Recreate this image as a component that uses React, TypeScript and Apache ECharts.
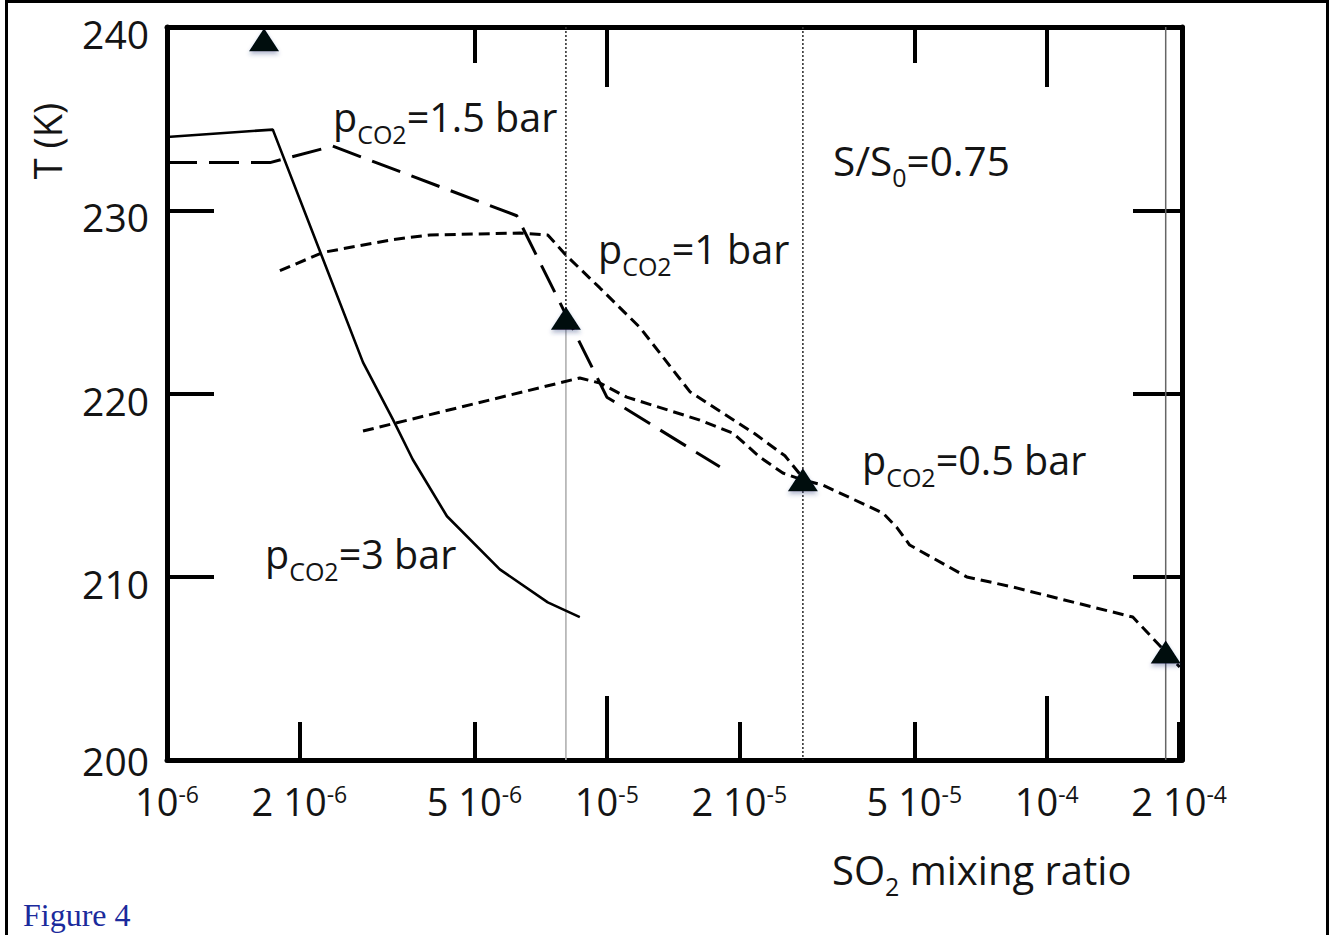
import React, { useEffect, useRef } from 'react';
import * as echarts from 'echarts';

const FONT = '"Open Sans", "DejaVu Sans", sans-serif';
const INK = '#141414';

// Axis ranges
const X_MIN = 1e-6;
const X_MAX = 2.03e-4;
const Y_MIN = 200;
const Y_MAX = 240;

// p_CO2 = 3 bar (solid)
const bar3X = [1.0e-6, 1.74e-6, 2.79e-6, 3.26e-6, 3.62e-6, 4.33e-6, 5.71e-6, 7.34e-6, 8.68e-6];
const bar3T = [234.0, 234.4, 221.7, 218.6, 216.4, 213.3, 210.4, 208.6, 207.8];

// p_CO2 = 1.5 bar (long dash)
const bar15X = [1.0e-6, 1.715e-6, 2.38e-6, 6.24e-6, 1.0e-5, 1.806e-5];
const bar15T = [232.6, 232.6, 233.5, 229.7, 219.8, 216.0];

// p_CO2 = 1 bar (short dash)
const bar1X = [1.806e-6, 2.262e-6, 3.264e-6, 3.961e-6, 6.34e-6, 7.34e-6, 8.11e-6, 9.64e-6, 1.189e-5, 1.544e-5, 2.17e-5, 2.54e-5, 2.79e-5];
const bar1T = [226.7, 227.7, 228.4, 228.65, 228.76, 228.65, 227.5, 225.76, 223.6, 220.1, 217.8, 216.6, 215.4];

// p_CO2 = 0.5 bar (short dash)
const bar05X = [2.79e-6, 8.68e-6, 9.64e-6, 1.11e-5, 1.627e-5, 1.934e-5, 2.227e-5, 2.512e-5, 2.79e-5, 3.097e-5, 4.24e-5, 4.56e-5, 4.88e-5, 6.58e-5, 8.37e-5, 1.569e-4, 1.874e-4, 2.006e-4];
const bar05T = [217.95, 220.85, 220.57, 219.8, 218.55, 217.84, 216.53, 215.66, 215.28, 215.0, 213.48, 212.7, 211.73, 209.99, 209.44, 207.8, 205.84, 205.07];

// triangle markers
const markX = [1.662e-6, 8.07e-6, 2.79e-5, 1.864e-4];
const markT = [239.3, 224.1, 215.3, 205.9];

// x tick labels
const tickValues = [1e-6, 2e-6, 5e-6, 1e-5, 2e-5, 5e-5, 1e-4, 2e-4];
const tickMantissas = ['', '2 ', '5 ', '', '2 ', '5 ', '', '2 '];
const tickExponents = ['-6', '-6', '-6', '-5', '-5', '-5', '-4', '-4'];
const majorTicks = [1e-5, 1e-4];
const bottomMinorTicks = [2e-6, 5e-6, 2e-5, 5e-5, 2e-4];
const topMinorTicks = [5e-6, 5e-5];

const pts = (xs: number[], ys: number[]) => xs.map((x, i) => [x, ys[i]]);

const subLabel = (x: number, y: number, a: string, sub: string, b: string, size = 39.5) => ({
  type: 'text',
  x,
  y,
  silent: true,
  style: {
    text: `{m|${a}}{s|${sub}}{m|${b}}`,
    align: 'left',
    verticalAlign: 'middle',
    rich: {
      m: { fontSize: size, fontFamily: FONT, fill: INK, verticalAlign: 'middle' },
      s: { fontSize: 25, fontFamily: FONT, fill: INK, verticalAlign: 'middle', padding: [34, 0, 0, 0] },
    },
  },
});

export default function App() {
  const ref = useRef<HTMLDivElement>(null);

  useEffect(() => {
    if (!ref.current) return;
    const chart = echarts.init(ref.current, null, { renderer: 'svg' });

    const lineAxis = { show: true, onZero: false, lineStyle: { color: '#000', width: 5 } };
    const tickStyle = { color: '#000', width: 4 };
    const baseX: any = {
      type: 'log',
      logBase: 10,
      min: X_MIN,
      max: X_MAX,
      splitLine: { show: false },
      axisLabel: { show: false },
      axisTick: { show: false },
      axisLine: { show: false, onZero: false },
    };

    const xLabelFormatter = (v: number) => {
      const i = tickValues.findIndex((t) => Math.abs(Math.log10(v) - Math.log10(t)) < 0.01);
      if (i < 0) return '';
      return `{m|${tickMantissas[i]}10}{s|${tickExponents[i]}}`;
    };

    const option: any = {
      animation: false,
      backgroundColor: '#fff',
      grid: { left: 167, right: 148, top: 27, bottom: 175 },
      xAxis: [
        {
          ...baseX,
          position: 'bottom',
          axisLine: lineAxis,
          axisTick: { show: true, inside: true, length: 64, lineStyle: tickStyle, customValues: majorTicks },
          axisLabel: {
            show: true,
            customValues: tickValues,
            formatter: xLabelFormatter,
            margin: 22,
            hideOverlap: false,
            rich: {
              m: { fontSize: 38, fontFamily: FONT, color: INK },
              s: { fontSize: 23, fontFamily: FONT, color: INK, verticalAlign: 'top' },
            },
          },
        },
        {
          ...baseX,
          position: 'bottom',
          axisTick: { show: true, inside: true, length: 38, lineStyle: tickStyle, customValues: bottomMinorTicks },
        },
        {
          ...baseX,
          position: 'top',
          axisLine: lineAxis,
          axisTick: { show: true, inside: true, length: 60, lineStyle: tickStyle, customValues: majorTicks },
        },
        {
          ...baseX,
          position: 'top',
          axisTick: { show: true, inside: true, length: 36, lineStyle: tickStyle, customValues: topMinorTicks },
        },
      ],
      yAxis: [
        {
          type: 'value',
          min: Y_MIN,
          max: Y_MAX,
          interval: 10,
          position: 'left',
          axisLine: lineAxis,
          axisTick: { show: true, inside: true, length: 47, lineStyle: tickStyle },
          axisLabel: {
            margin: 18,
            formatter: (v: number) => (v === Y_MIN ? `{b|${v}}` : `{v|${v}}`),
            rich: {
              v: { fontSize: 39, fontFamily: FONT, color: INK, padding: [13, 0, 0, 0] },
              b: { fontSize: 39, fontFamily: FONT, color: INK },
            },
          },
          splitLine: { show: false },
        },
        {
          type: 'value',
          min: Y_MIN,
          max: Y_MAX,
          interval: 10,
          position: 'right',
          axisLine: lineAxis,
          axisTick: { show: true, inside: true, length: 49, lineStyle: tickStyle },
          axisLabel: { show: false },
          splitLine: { show: false },
        },
      ],
      series: [
        {
          type: 'line',
          name: 'ref1-upper',
          data: [[markX[1], Y_MAX], [markX[1], markT[1]]],
          showSymbol: false,
          silent: true,
          lineStyle: { color: '#333', width: 1.6, type: [2, 2] },
        },
        {
          type: 'line',
          name: 'ref1-lower',
          data: [[markX[1], markT[1]], [markX[1], Y_MIN]],
          showSymbol: false,
          silent: true,
          lineStyle: { color: '#b0b0b0', width: 1.6 },
        },
        {
          type: 'line',
          name: 'ref2',
          data: [[markX[2], Y_MAX], [markX[2], Y_MIN]],
          showSymbol: false,
          silent: true,
          lineStyle: { color: '#333', width: 1.6, type: [2, 2] },
        },
        {
          type: 'line',
          name: 'ref3',
          data: [[markX[3], Y_MAX], [markX[3], Y_MIN]],
          showSymbol: false,
          silent: true,
          lineStyle: { color: '#666', width: 1.5 },
        },
        {
          type: 'line',
          name: 'pCO2=3 bar',
          data: pts(bar3X, bar3T),
          showSymbol: false,
          lineStyle: { color: '#000', width: 2.6, type: 'solid' },
        },
        {
          type: 'line',
          name: 'pCO2=1.5 bar',
          data: pts(bar15X, bar15T),
          showSymbol: false,
          lineStyle: { color: '#000', width: 3, type: [30, 12] },
        },
        {
          type: 'line',
          name: 'pCO2=1 bar',
          data: pts(bar1X, bar1T),
          showSymbol: false,
          lineStyle: { color: '#000', width: 3, type: [11, 6] },
        },
        {
          type: 'line',
          name: 'pCO2=0.5 bar',
          data: pts(bar05X, bar05T),
          showSymbol: false,
          lineStyle: { color: '#000', width: 3, type: [11, 6] },
        },
        {
          type: 'scatter',
          name: 'markers',
          data: pts(markX, markT),
          symbol: 'triangle',
          symbolSize: [30, 23],
          itemStyle: {
            color: '#05070f',
            opacity: 1,
            shadowBlur: 4,
            shadowOffsetY: 3,
            shadowColor: 'rgba(40,60,120,0.35)',
          },
          z: 5,
        },
      ],
      graphic: [
        {
          type: 'rect',
          silent: true,
          shape: { x: 6.5, y: 1.5, width: 1321, height: 1000 },
          style: { fill: 'none', stroke: '#000', lineWidth: 3 },
        },
        subLabel(333, 117, 'p', 'CO2', '=1.5 bar'),
        subLabel(598, 249, 'p', 'CO2', '=1 bar'),
        subLabel(862, 460, 'p', 'CO2', '=0.5 bar'),
        subLabel(265, 554, 'p', 'CO2', '=3 bar'),
        subLabel(833, 160, 'S/S', '0', '=0.75', 40.5),
        subLabel(832, 869, 'SO', '2', ' mixing ratio', 40),
        {
          type: 'text',
          x: 47,
          y: 141,
          rotation: Math.PI / 2,
          silent: true,
          style: {
            text: 'T (K)',
            fontSize: 38,
            fontFamily: FONT,
            fill: INK,
            align: 'center',
            verticalAlign: 'middle',
          },
        },
        {
          type: 'text',
          x: 23,
          y: 915,
          silent: true,
          style: {
            text: 'Figure 4',
            fontSize: 32,
            fontFamily: '"Liberation Serif", "DejaVu Serif", serif',
            fill: '#1b2a9c',
            align: 'left',
            verticalAlign: 'middle',
          },
        },
      ],
    };

    chart.setOption(option);
    return () => chart.dispose();
  }, []);

  return (
    <div
      ref={ref}
      style={{ position: 'absolute', left: 0, top: 0, width: 1330, height: 935, background: '#fff' }}
    />
  );
}
